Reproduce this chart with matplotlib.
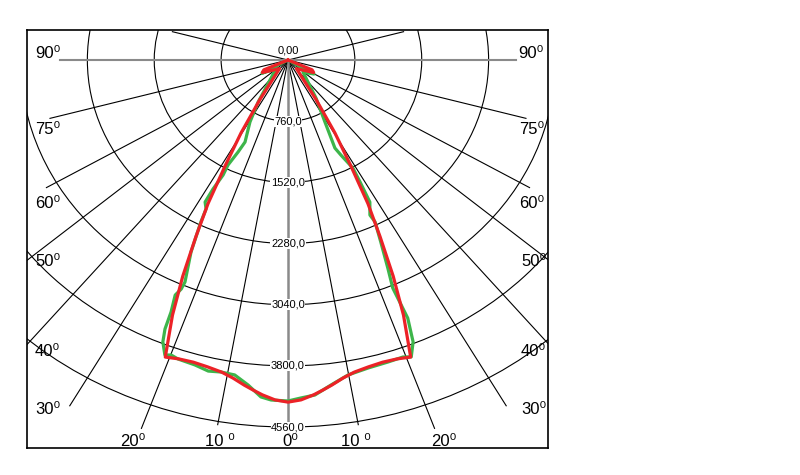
import numpy as np
import matplotlib
matplotlib.use('Agg')
import matplotlib.pyplot as plt
from matplotlib.patches import Circle

plt.rcParams['font.family'] = ['Liberation Sans', 'DejaVu Sans']

# rings of the polar grid (cd)
ring_values = [760, 1520, 2280, 3040, 3800, 4560]
ring_labels = ['760,0', '1520,0', '2280,0', '3040,0', '3800,0', '4560,0']

# radial rays (deg from nadir) and how far they are drawn
ray_angles = [10, 20, 30, 40, 50, 60, 75, 105]
ray_lengths = [4600, 4870, 4960, 5500, 5500, 3170, 2800, 1360]

# red curve, symmetric half (deg, cd)
red_angles = [0, 2, 4, 5.5, 7, 9, 11, 13.5, 16, 18.5, 20.7,
              22.5, 24, 25.5, 27, 28.5, 30.5, 33, 42, 62, 66, 68]
red_cd = [4250, 4225, 4170, 4120, 4070, 4000, 3950, 3920, 3905, 3915, 3945,
          3430, 2940, 2430, 2000, 1500, 1050, 590, 145, 330, 300, 0]

# green curve, full sweep left -> right (deg, cd)
green_angles = [-68, -61, -51, -33, -29.3, -25.6, -26.4, -27.6, -27.3, -28,
                -28.1, -26.7, -26.2, -24.8, -23, -23.1, -23.7, -23, -22.7, -22.1,
                -20.9, -19.9, -18.6, -15.6, -13.2, -11.1, -8.8, -6.4, -4.2, -2.6,
                0, 2, 4.2, 6.9, 9.9, 13.4, 16.9, 19.5, 20.8, 22.1,
                23, 22.9, 22.8, 23.7, 25, 26.2, 25.8, 27.8, 28.4, 28.8,
                27, 26, 28.6, 34, 48.8, 59.5, 67]
green_cd = [0, 337, 176, 623, 883, 1130, 1276, 1472, 1608, 1815,
            2000, 2072, 2242, 2627, 2996, 3094, 3189, 3401, 3622, 3780,
            3922, 3898, 3919, 3933, 3969, 3950, 3959, 4063, 4197, 4228,
            4236, 4201, 4173, 4067, 3972, 3933, 3920, 3914, 3945, 3780,
            3483, 3264, 3073, 2823, 2496, 2242, 2139, 1995, 1722, 1532,
            1325, 1217, 878, 569, 227, 343, 0]


def to_xy(ang, cd):
    a = np.radians(np.asarray(ang, dtype=float))
    r = np.asarray(cd, dtype=float)
    return r * np.sin(a), -r * np.cos(a)


W, H = 800, 475
fig = plt.figure(figsize=(W / 100, H / 100), dpi=100)
ax = fig.add_axes([27 / W, 1 - 448 / H, 521 / W, 418 / H])
ax.set_xlim(-2966, 2955)
ax.set_ylim(-4820, 373)
ax.set_xticks([])
ax.set_yticks([])
for sp in ax.spines.values():
    sp.set_linewidth(1.2)

for v in ring_values:
    ax.add_patch(Circle((0, 0), v, fill=False, ec='black', lw=0.8, zorder=1))

for a, L in zip(ray_angles, ray_lengths):
    for s in (-1, 1):
        x, y = to_xy([0, s * a], [0, L])
        ax.plot(x, y, color='black', lw=0.8, zorder=1)

# main axes of the diagram in grey
x, y = to_xy([0, 0], [0, 4620])
ax.plot(x, y, color='#8a8a8a', lw=1.8, zorder=2)
for s in (-1, 1):
    x, y = to_xy([0, s * 90], [0, 2590])
    ax.plot(x, y, color='#8a8a8a', lw=1.5, zorder=2)

for v, lab in zip(ring_values, ring_labels):
    ax.text(0, -v, lab, ha='center', va='center', fontsize=8, zorder=3,
            bbox=dict(fc='white', ec='none', pad=0.4))
ax.text(0, 124, '0,00', ha='center', va='center', fontsize=8, zorder=3)

# curves
gx, gy = to_xy(green_angles, green_cd)
ax.plot(gx, gy, color='#3db54a', lw=2.3, zorder=4, solid_joinstyle='round')

full_ang = [-a for a in red_angles[::-1]] + red_angles[1:]
full_cd = red_cd[::-1] + red_cd[1:]
rx, ry = to_xy(full_ang, full_cd)
ax.plot(rx, ry, color='#ec2227', lw=2.3, zorder=5, solid_joinstyle='round')

# angle labels (pixel positions of left edge / vertical centre)
angle_labels = [
    ('90⁰', 35, 54), ('75⁰', 35, 130), ('60⁰', 35, 204), ('50⁰', 35, 261),
    ('40⁰', 35, 351), ('30⁰', 35, 410),
    ('90⁰', 518, 54), ('75⁰', 519, 130), ('60⁰', 519, 204), ('50⁰', 521, 261),
    ('40⁰', 521, 351), ('30⁰', 521, 410),
    ('20⁰', 120, 441), ('10 ⁰', 205, 441), ('0⁰', 282, 441),
    ('10 ⁰', 341, 441), ('20⁰', 431, 441),
]
for txt, px, py in angle_labels:
    fig.text(px / W, 1 - py / H, txt, ha='left', va='center', fontsize=12)

fig.savefig('out.png', dpi=100)
